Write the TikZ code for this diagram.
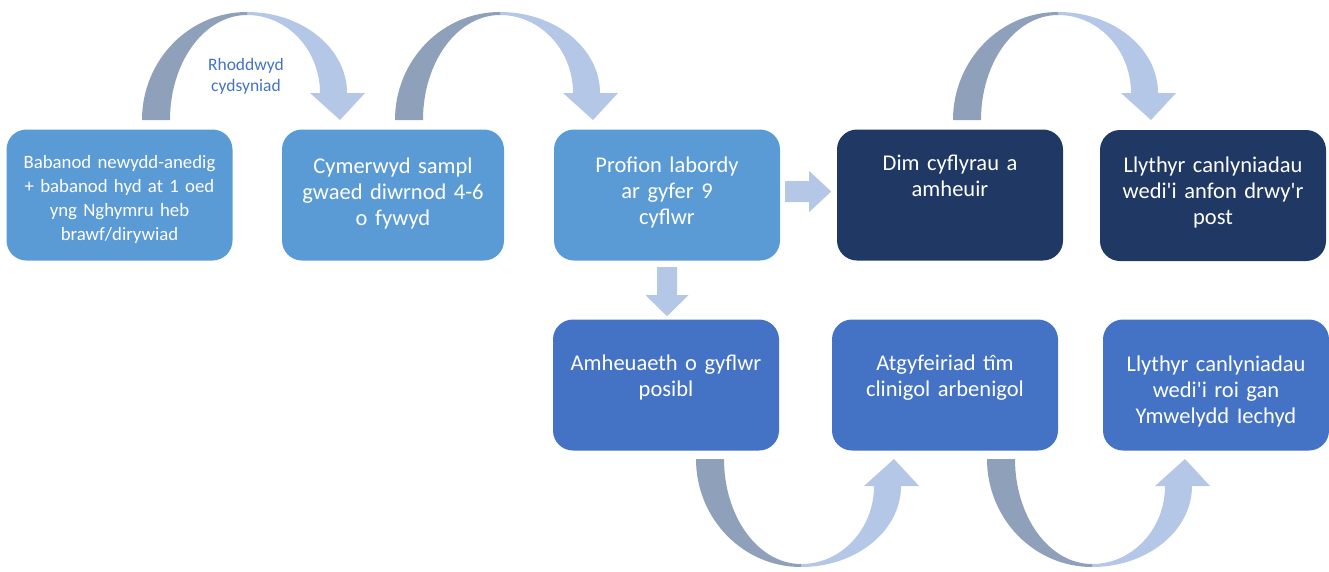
\documentclass[tikz,border=0pt]{standalone}
\usepackage{fontspec}
\setmainfont{Carlito}
\usetikzlibrary{calc}
\definecolor{lightbox}{HTML}{5B9BD5}
\definecolor{navybox}{HTML}{203864}
\definecolor{midbox}{HTML}{4472C4}
\definecolor{arcdark}{HTML}{8FA0BB}
\definecolor{arclight}{HTML}{B4C7E7}
\newcommand\bendarrow[1]{%
\begin{scope}[#1]
\fill[arclight] (0,-108) arc[start angle=270,end angle=360,x radius=100,y radius=81] -- (118,-27) -- (93,0) -- (63,-27) -- (73,-27) arc[start angle=0,end angle=-90,x radius=73,y radius=78] -- cycle;
\fill[arcdark] (-105,0) arc[start angle=180,end angle=270,x radius=105,y radius=108] -- (0,-105) arc[start angle=270,end angle=180,x radius=77,y radius=105] -- cycle;
\end{scope}}
\newcommand\apos{\textquotesingle}
\begin{document}
\begin{tikzpicture}[x=1pt,y=-1pt,
  box/.style={rounded corners=20pt, minimum width=226pt, minimum height=131pt, inner sep=0pt, draw=none},
  txt/.style={text=white, text width=224pt, align=center, anchor=base, inner sep=0pt, font=\fontsize{22.5}{26}\selectfont},
  lbl/.style={text=midbox, text width=120pt, align=center, anchor=base, inner sep=0pt, font=\fontsize{17.5}{21.5}\selectfont}]
\useasboundingbox (0,0) rectangle (1329,571);
% boxes
\node[box, fill=lightbox] (A) at (119.5,195) {};
\node[box, fill=lightbox, minimum width=222pt] (B) at (393,195) {};
\node[box, fill=lightbox] (C) at (667,195) {};
\node[box, fill=navybox] (D) at (950,195) {};
\node[box, fill=navybox] (E) at (1213,195.5) {};
\node[box, fill=midbox] (F) at (666,385) {};
\node[box, fill=midbox] (G) at (945,385) {};
\node[box, fill=midbox] (H) at (1216,385) {};
% texts
\node[txt, font=\fontsize{18.8}{24}\selectfont] (tA) at (119.5,168) {Babanod newydd-anedig\\+ babanod hyd at 1 oed\\yng Nghymru heb\\brawf/dirywiad};
\node[txt] (tB) at (393,173) {Cymerwyd sampl\\gwaed diwrnod 4-6\\o fywyd};
\node[txt] (tC) at (667,172) {Profion labordy\\ar gyfer 9\\cyflwr};
\node[txt] (tD) at (950,170) {Dim cyflyrau a\\amheuir};
\node[txt] (tE) at (1213,172) {Llythyr canlyniadau\\wedi\apos i anfon drwy\apos r\\post};
\node[txt] (tF) at (666,370) {Amheuaeth o gyflwr\\posibl};
\node[txt] (tG) at (945,370) {Atgyfeiriad tîm\\clinigol arbenigol};
\node[txt] (tH) at (1216,371) {Llythyr canlyniadau\\wedi\apos i roi gan\\Ymwelydd Iechyd};
% bent arrows
\bendarrow{shift={(247,120)}}
\bendarrow{shift={(500,120)}}
\bendarrow{shift={(1058,120)}}
\bendarrow{shift={(801,459)}, yscale=-1}
\bendarrow{shift={(1092,459)}, yscale=-1}
\node[lbl] (cons) at (246,70) {Rhoddwyd\\cydsyniad};
% block arrows
\coordinate (ra) at ($(C.east)+(5,-3.5)$);
\fill[arclight] ($(ra)+(0,-10.5)$) -- ++(24,0) -- ++(0,-10) -- ++(22,20.5) -- ++(-22,20.5) -- ++(0,-10) -- ++(-24,0) -- cycle;
\coordinate (da) at ($(C.south)+(0,6.5)$);
\fill[arclight] ($(da)+(-10,0)$) -- ++(20,0) -- ++(0,28) -- ++(11.5,0) -- ++(-21.5,21) -- ++(-21.5,-21) -- ++(11.5,0) -- cycle;
\end{tikzpicture}
\end{document}
